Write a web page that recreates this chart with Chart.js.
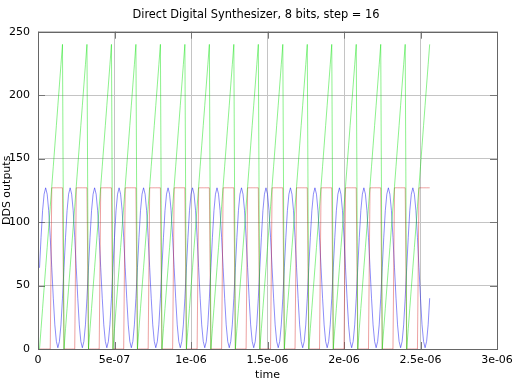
<!DOCTYPE html>
<html>
<head>
<meta charset="utf-8">
<script src="https://cdn.jsdelivr.net/npm/chart.js@4/dist/chart.umd.min.js"></script>
<style>
  html, body { margin: 0; padding: 0; background: #fff; }
</style>
</head>
<body>
<canvas id="grafico-dds" width="512" height="384"></canvas>
<script>
// DDS, 8 bits, step = 16 : one sample every 1e-8 s
const time = [
  1e-8, 2e-8, 3e-8, 4e-8, 5e-8, 6e-8, 7e-8, 8e-8, 9e-8, 10e-8, 11e-8, 12e-8, 13e-8, 14e-8, 15e-8, 16e-8,
  17e-8, 18e-8, 19e-8, 20e-8, 21e-8, 22e-8, 23e-8, 24e-8, 25e-8, 26e-8, 27e-8, 28e-8, 29e-8, 30e-8, 31e-8, 32e-8,
  33e-8, 34e-8, 35e-8, 36e-8, 37e-8, 38e-8, 39e-8, 40e-8, 41e-8, 42e-8, 43e-8, 44e-8, 45e-8, 46e-8, 47e-8, 48e-8,
  49e-8, 50e-8, 51e-8, 52e-8, 53e-8, 54e-8, 55e-8, 56e-8, 57e-8, 58e-8, 59e-8, 60e-8, 61e-8, 62e-8, 63e-8, 64e-8,
  65e-8, 66e-8, 67e-8, 68e-8, 69e-8, 70e-8, 71e-8, 72e-8, 73e-8, 74e-8, 75e-8, 76e-8, 77e-8, 78e-8, 79e-8, 80e-8,
  81e-8, 82e-8, 83e-8, 84e-8, 85e-8, 86e-8, 87e-8, 88e-8, 89e-8, 90e-8, 91e-8, 92e-8, 93e-8, 94e-8, 95e-8, 96e-8,
  97e-8, 98e-8, 99e-8, 100e-8, 101e-8, 102e-8, 103e-8, 104e-8, 105e-8, 106e-8, 107e-8, 108e-8, 109e-8, 110e-8, 111e-8, 112e-8,
  113e-8, 114e-8, 115e-8, 116e-8, 117e-8, 118e-8, 119e-8, 120e-8, 121e-8, 122e-8, 123e-8, 124e-8, 125e-8, 126e-8, 127e-8, 128e-8,
  129e-8, 130e-8, 131e-8, 132e-8, 133e-8, 134e-8, 135e-8, 136e-8, 137e-8, 138e-8, 139e-8, 140e-8, 141e-8, 142e-8, 143e-8, 144e-8,
  145e-8, 146e-8, 147e-8, 148e-8, 149e-8, 150e-8, 151e-8, 152e-8, 153e-8, 154e-8, 155e-8, 156e-8, 157e-8, 158e-8, 159e-8, 160e-8,
  161e-8, 162e-8, 163e-8, 164e-8, 165e-8, 166e-8, 167e-8, 168e-8, 169e-8, 170e-8, 171e-8, 172e-8, 173e-8, 174e-8, 175e-8, 176e-8,
  177e-8, 178e-8, 179e-8, 180e-8, 181e-8, 182e-8, 183e-8, 184e-8, 185e-8, 186e-8, 187e-8, 188e-8, 189e-8, 190e-8, 191e-8, 192e-8,
  193e-8, 194e-8, 195e-8, 196e-8, 197e-8, 198e-8, 199e-8, 200e-8, 201e-8, 202e-8, 203e-8, 204e-8, 205e-8, 206e-8, 207e-8, 208e-8,
  209e-8, 210e-8, 211e-8, 212e-8, 213e-8, 214e-8, 215e-8, 216e-8, 217e-8, 218e-8, 219e-8, 220e-8, 221e-8, 222e-8, 223e-8, 224e-8,
  225e-8, 226e-8, 227e-8, 228e-8, 229e-8, 230e-8, 231e-8, 232e-8, 233e-8, 234e-8, 235e-8, 236e-8, 237e-8, 238e-8, 239e-8, 240e-8,
  241e-8, 242e-8, 243e-8, 244e-8, 245e-8, 246e-8, 247e-8, 248e-8, 249e-8, 250e-8, 251e-8, 252e-8, 253e-8, 254e-8, 255e-8, 256e-8
];

// phase accumulator (green)
const phase = [
  0, 16, 32, 48, 64, 80, 96, 112, 128, 144, 160, 176, 192, 208, 224, 240,
  0, 16, 32, 48, 64, 80, 96, 112, 128, 144, 160, 176, 192, 208, 224, 240,
  0, 16, 32, 48, 64, 80, 96, 112, 128, 144, 160, 176, 192, 208, 224, 240,
  0, 16, 32, 48, 64, 80, 96, 112, 128, 144, 160, 176, 192, 208, 224, 240,
  0, 16, 32, 48, 64, 80, 96, 112, 128, 144, 160, 176, 192, 208, 224, 240,
  0, 16, 32, 48, 64, 80, 96, 112, 128, 144, 160, 176, 192, 208, 224, 240,
  0, 16, 32, 48, 64, 80, 96, 112, 128, 144, 160, 176, 192, 208, 224, 240,
  0, 16, 32, 48, 64, 80, 96, 112, 128, 144, 160, 176, 192, 208, 224, 240,
  0, 16, 32, 48, 64, 80, 96, 112, 128, 144, 160, 176, 192, 208, 224, 240,
  0, 16, 32, 48, 64, 80, 96, 112, 128, 144, 160, 176, 192, 208, 224, 240,
  0, 16, 32, 48, 64, 80, 96, 112, 128, 144, 160, 176, 192, 208, 224, 240,
  0, 16, 32, 48, 64, 80, 96, 112, 128, 144, 160, 176, 192, 208, 224, 240,
  0, 16, 32, 48, 64, 80, 96, 112, 128, 144, 160, 176, 192, 208, 224, 240,
  0, 16, 32, 48, 64, 80, 96, 112, 128, 144, 160, 176, 192, 208, 224, 240,
  0, 16, 32, 48, 64, 80, 96, 112, 128, 144, 160, 176, 192, 208, 224, 240,
  0, 16, 32, 48, 64, 80, 96, 112, 128, 144, 160, 176, 192, 208, 224, 240
];

// square output (red)
const square = [
  0, 0, 0, 0, 0, 0, 0, 0, 127, 127, 127, 127, 127, 127, 127, 127,
  0, 0, 0, 0, 0, 0, 0, 0, 127, 127, 127, 127, 127, 127, 127, 127,
  0, 0, 0, 0, 0, 0, 0, 0, 127, 127, 127, 127, 127, 127, 127, 127,
  0, 0, 0, 0, 0, 0, 0, 0, 127, 127, 127, 127, 127, 127, 127, 127,
  0, 0, 0, 0, 0, 0, 0, 0, 127, 127, 127, 127, 127, 127, 127, 127,
  0, 0, 0, 0, 0, 0, 0, 0, 127, 127, 127, 127, 127, 127, 127, 127,
  0, 0, 0, 0, 0, 0, 0, 0, 127, 127, 127, 127, 127, 127, 127, 127,
  0, 0, 0, 0, 0, 0, 0, 0, 127, 127, 127, 127, 127, 127, 127, 127,
  0, 0, 0, 0, 0, 0, 0, 0, 127, 127, 127, 127, 127, 127, 127, 127,
  0, 0, 0, 0, 0, 0, 0, 0, 127, 127, 127, 127, 127, 127, 127, 127,
  0, 0, 0, 0, 0, 0, 0, 0, 127, 127, 127, 127, 127, 127, 127, 127,
  0, 0, 0, 0, 0, 0, 0, 0, 127, 127, 127, 127, 127, 127, 127, 127,
  0, 0, 0, 0, 0, 0, 0, 0, 127, 127, 127, 127, 127, 127, 127, 127,
  0, 0, 0, 0, 0, 0, 0, 0, 127, 127, 127, 127, 127, 127, 127, 127,
  0, 0, 0, 0, 0, 0, 0, 0, 127, 127, 127, 127, 127, 127, 127, 127,
  0, 0, 0, 0, 0, 0, 0, 0, 127, 127, 127, 127, 127, 127, 127, 127
];

// sine output (blue)
const sine = [
  64, 88, 109, 122, 127, 122, 109, 88, 64, 40, 19, 6, 1, 6, 19, 40,
  64, 88, 109, 122, 127, 122, 109, 88, 64, 40, 19, 6, 1, 6, 19, 40,
  64, 88, 109, 122, 127, 122, 109, 88, 64, 40, 19, 6, 1, 6, 19, 40,
  64, 88, 109, 122, 127, 122, 109, 88, 64, 40, 19, 6, 1, 6, 19, 40,
  64, 88, 109, 122, 127, 122, 109, 88, 64, 40, 19, 6, 1, 6, 19, 40,
  64, 88, 109, 122, 127, 122, 109, 88, 64, 40, 19, 6, 1, 6, 19, 40,
  64, 88, 109, 122, 127, 122, 109, 88, 64, 40, 19, 6, 1, 6, 19, 40,
  64, 88, 109, 122, 127, 122, 109, 88, 64, 40, 19, 6, 1, 6, 19, 40,
  64, 88, 109, 122, 127, 122, 109, 88, 64, 40, 19, 6, 1, 6, 19, 40,
  64, 88, 109, 122, 127, 122, 109, 88, 64, 40, 19, 6, 1, 6, 19, 40,
  64, 88, 109, 122, 127, 122, 109, 88, 64, 40, 19, 6, 1, 6, 19, 40,
  64, 88, 109, 122, 127, 122, 109, 88, 64, 40, 19, 6, 1, 6, 19, 40,
  64, 88, 109, 122, 127, 122, 109, 88, 64, 40, 19, 6, 1, 6, 19, 40,
  64, 88, 109, 122, 127, 122, 109, 88, 64, 40, 19, 6, 1, 6, 19, 40,
  64, 88, 109, 122, 127, 122, 109, 88, 64, 40, 19, 6, 1, 6, 19, 40,
  64, 88, 109, 122, 127, 122, 109, 88, 64, 40, 19, 6, 1, 6, 19, 40
];

const xTickLabels = ["0", "5e-07", "1e-06", "1.5e-06", "2e-06", "2.5e-06", "3e-06"];
const xStep = 5e-7;
const yStep = 50;

Chart.defaults.font.family = "'DejaVu Sans', sans-serif";
Chart.defaults.font.size = 11;
Chart.defaults.color = "#000";

// border box + small inward ticks, gnuplot style
const moldura = {
  id: "moldura",
  beforeDatasetsDraw(chart) {
    const { ctx, chartArea: a, scales } = chart;
    const tl = 7;
    ctx.save();
    ctx.strokeStyle = "#777";
    ctx.lineWidth = 1;
    ctx.beginPath();
    scales.y.ticks.forEach(t => {
      const y = Math.round(scales.y.getPixelForValue(t.value)) + 0.5;
      ctx.moveTo(a.left, y); ctx.lineTo(a.left + tl, y);
      ctx.moveTo(a.right, y); ctx.lineTo(a.right - tl, y);
    });
    scales.x.ticks.forEach(t => {
      const x = Math.round(scales.x.getPixelForValue(t.value)) + 0.5;
      ctx.moveTo(x, a.bottom); ctx.lineTo(x, a.bottom - tl);
      ctx.moveTo(x, a.top); ctx.lineTo(x, a.top + tl);
    });
    ctx.stroke();
    ctx.strokeStyle = "#666";
    ctx.strokeRect(Math.round(a.left) + 0.5, Math.round(a.top) + 0.5,
      Math.round(a.right - a.left), Math.round(a.bottom - a.top));
    ctx.restore();
  }
};

const ctx = document.getElementById("grafico-dds").getContext("2d");

window.ddsChart = new Chart(ctx, {
  type: "line",
  data: {
    labels: time,
    datasets: [
      { label: "phase", data: phase, borderColor: "rgba(0,225,0,0.45)" },
      { label: "square", data: square, borderColor: "rgba(210,20,20,0.4)" },
      { label: "sine", data: sine, borderColor: "rgba(0,0,240,0.45)" }
    ]
  },
  options: {
    responsive: false,
    animation: false,
    devicePixelRatio: 1,
    elements: {
      line: { borderWidth: 1, tension: 0 },
      point: { radius: 0 }
    },
    layout: { padding: { left: 0, right: 0, top: 0, bottom: 0 } },
    plugins: {
      legend: { display: false },
      tooltip: { enabled: false },
      title: {
        display: true,
        text: "Direct Digital Synthesizer, 8 bits, step = 16",
        font: { size: 11.4, weight: "normal" },
        padding: { top: 8, bottom: 10 }
      }
    },
    scales: {
      x: {
        type: "linear",
        min: 0,
        max: 3e-6,
        grid: { color: "#c4c4c4", drawTicks: false },
        border: { display: false },
        ticks: {
          stepSize: xStep,
          autoSkip: false,
          maxRotation: 0,
          padding: 5,
          callback: v => xTickLabels[Math.round(v / xStep)]
        },
        title: { display: true, text: "time", padding: { top: 1, bottom: 2 } },
        afterFit: s => { s.height = 35; s.paddingLeft = 0; s.paddingRight = 15; }
      },
      y: {
        min: 0,
        max: 250,
        grid: { color: "#c4c4c4", drawTicks: false },
        border: { display: false },
        ticks: { stepSize: yStep, padding: 8 },
        title: { display: true, text: "DDS outputs", padding: { top: 1, bottom: 0 } },
        afterFit: s => { s.width = 38; }
      }
    }
  },
  plugins: [moldura]
});
</script>
</body>
</html>
